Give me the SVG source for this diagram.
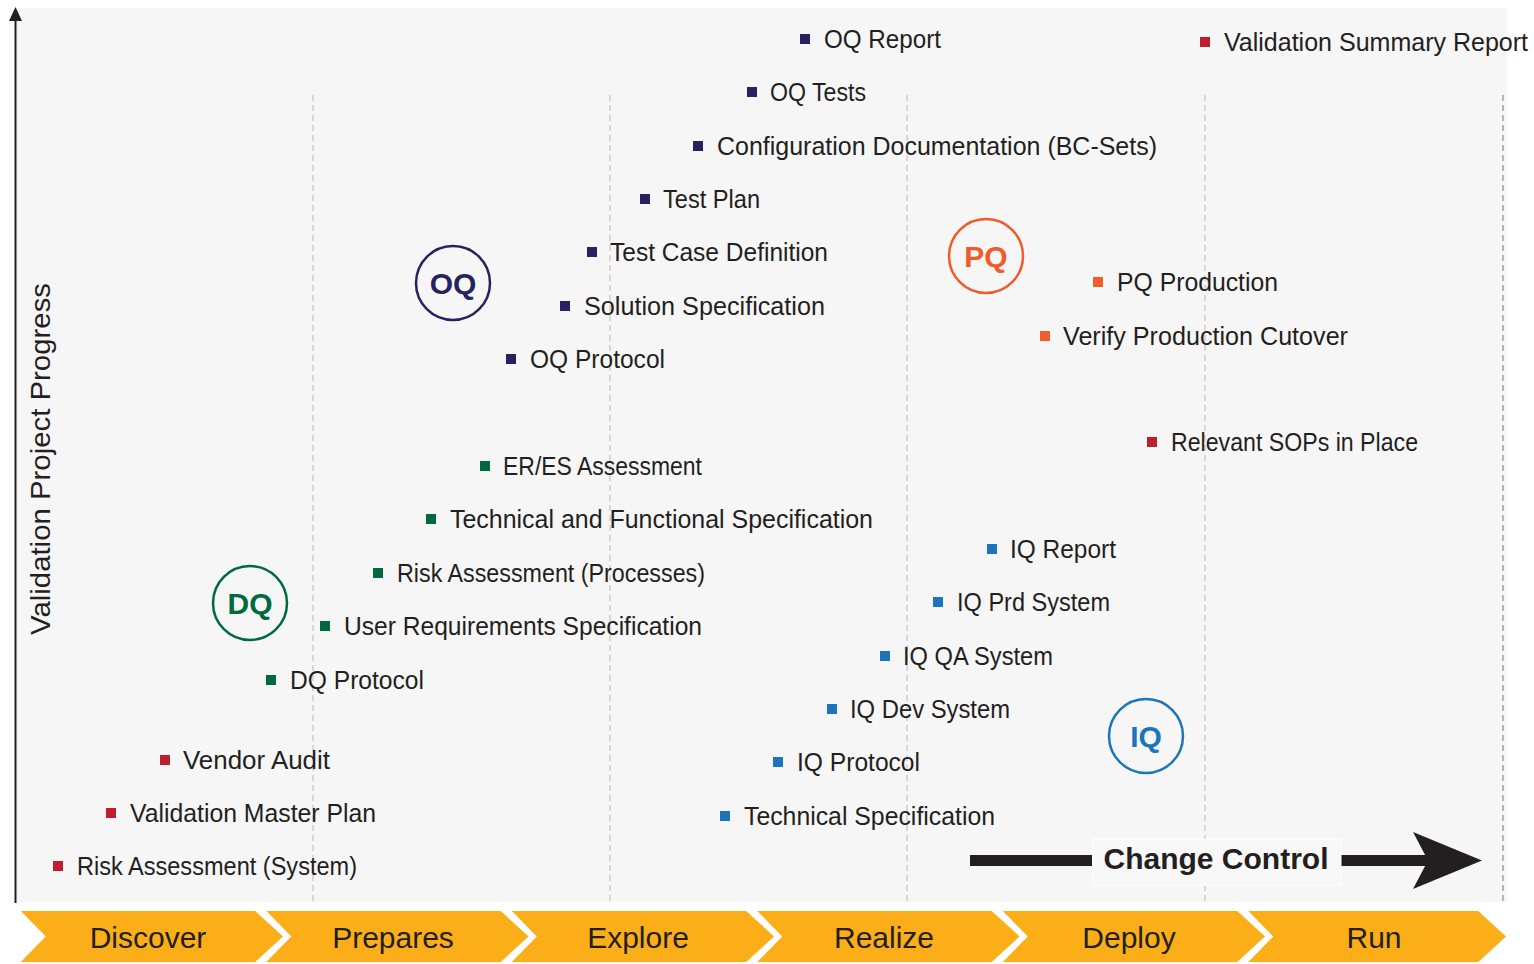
<svg xmlns="http://www.w3.org/2000/svg" width="1534" height="964" viewBox="0 0 1534 964">
<style>
.t{font-family:"Liberation Sans",Arial,sans-serif;font-size:25px;fill:#231f20}
.ph{font-family:"Liberation Sans",Arial,sans-serif;font-size:30px;fill:#231f20;text-anchor:middle}
.cl{font-family:"Liberation Sans",Arial,sans-serif;font-size:30px;font-weight:bold;text-anchor:middle}
.grid{stroke:#c4c4c4;stroke-width:1.2;stroke-dasharray:6 4;fill:none}
.chev{fill:#fbae17;stroke:#ffffff;stroke-width:4}
.oq{fill:#262262}.dq{fill:#00693e}.rd{fill:#be1e2d}.pq{fill:#f15a29}.iq{fill:#1c75bc}
</style>
<defs>
<rect id="m" x="-5" y="-5" width="10" height="10"/>
</defs>
<rect x="16" y="8" width="1491" height="894" fill="#f6f6f6"/>
<g id="grid">
<line class="grid" x1="313" y1="95" x2="313" y2="902"/>
<line class="grid" x1="610" y1="95" x2="610" y2="902"/>
<line class="grid" x1="907" y1="95" x2="907" y2="902"/>
<line class="grid" x1="1205" y1="95" x2="1205" y2="902"/>
<line class="grid" x1="1503" y1="95" x2="1503" y2="902" style="stroke:#8a8a8a"/>
</g>
<g id="connectors">
<line x1="15.5" y1="20" x2="15.5" y2="903" stroke="#231f20" stroke-width="2"/>
<polygon points="15.5,7 9,21 22,21" fill="#231f20"/>
<rect x="970" y="855" width="122" height="11" fill="#231f20"/>
<rect x="1341" y="855" width="92" height="11" fill="#231f20"/>
<polygon points="1482,860.5 1413,832 1428,860.5 1413,889" fill="#231f20"/>
</g>
<g id="change-control">
<rect x="1093" y="839" width="248" height="46" fill="#f8f8f8" stroke="#ffffff" stroke-width="1"/>
<text class="cl" x="1216" y="869" fill="#231f20">Change Control</text>
</g>
<g id="y-axis-label">
<text class="t" style="font-size:28px" transform="translate(50,459) rotate(-90)" text-anchor="middle" textLength="352" lengthAdjust="spacingAndGlyphs">Validation Project Progress</text>
</g>
<g id="phases">
<g id="phase-discover"><polygon class="chev" points="16,909 256,909 286,936.5 256,964 16,964 43,936.5"/><text class="ph" x="148" y="948">Discover</text></g>
<g id="phase-prepares"><polygon class="chev" points="261.5,909 501.5,909 531.5,936.5 501.5,964 261.5,964 288.5,936.5"/><text class="ph" x="393" y="948">Prepares</text></g>
<g id="phase-explore"><polygon class="chev" points="507,909 747,909 777,936.5 747,964 507,964 534,936.5"/><text class="ph" x="638" y="948">Explore</text></g>
<g id="phase-realize"><polygon class="chev" points="752.5,909 992.5,909 1022.5,936.5 992.5,964 752.5,964 779.5,936.5"/><text class="ph" x="884" y="948">Realize</text></g>
<g id="phase-deploy"><polygon class="chev" points="998,909 1238,909 1268,936.5 1238,964 998,964 1025,936.5"/><text class="ph" x="1129" y="948">Deploy</text></g>
<g id="phase-run"><polygon class="chev" points="1243.5,909 1479,909 1509,936.5 1479,964 1243.5,964 1270.5,936.5"/><text class="ph" x="1374" y="948">Run</text></g>
</g>
<g id="badges">
<g id="badge-oq"><circle cx="453" cy="283" r="37" fill="none" stroke="#262262" stroke-width="2.5"/><text class="cl oq" x="453" y="294">OQ</text></g>
<g id="badge-dq"><circle cx="250" cy="603" r="37" fill="none" stroke="#00693e" stroke-width="2.5"/><text class="cl dq" x="250" y="614">DQ</text></g>
<g id="badge-pq"><circle cx="986" cy="256" r="37" fill="none" stroke="#f15a29" stroke-width="2.5"/><text class="cl pq" x="986" y="267">PQ</text></g>
<g id="badge-iq"><circle cx="1146" cy="736" r="37" fill="none" stroke="#1c75bc" stroke-width="2.5"/><text class="cl iq" x="1146" y="747">IQ</text></g>
</g>
<g id="items">
<g id="oq-report"><use href="#m" class="oq" x="805" y="39"/><text class="t" x="824" y="48" textLength="117" lengthAdjust="spacingAndGlyphs">OQ Report</text></g>
<g id="oq-tests"><use href="#m" class="oq" x="752" y="92"/><text class="t" x="770" y="101" textLength="96" lengthAdjust="spacingAndGlyphs">OQ Tests</text></g>
<g id="config-doc"><use href="#m" class="oq" x="698" y="146"/><text class="t" x="717" y="155" textLength="440" lengthAdjust="spacingAndGlyphs">Configuration Documentation (BC-Sets)</text></g>
<g id="test-plan"><use href="#m" class="oq" x="645" y="199"/><text class="t" x="663" y="208" textLength="97" lengthAdjust="spacingAndGlyphs">Test Plan</text></g>
<g id="test-case-def"><use href="#m" class="oq" x="592" y="252"/><text class="t" x="610" y="261" textLength="218" lengthAdjust="spacingAndGlyphs">Test Case Definition</text></g>
<g id="solution-spec"><use href="#m" class="oq" x="565" y="306"/><text class="t" x="584" y="315" textLength="241" lengthAdjust="spacingAndGlyphs">Solution Specification</text></g>
<g id="oq-protocol"><use href="#m" class="oq" x="511" y="359"/><text class="t" x="530" y="368" textLength="135" lengthAdjust="spacingAndGlyphs">OQ Protocol</text></g>
<g id="eres"><use href="#m" class="dq" x="485" y="466"/><text class="t" x="503" y="475" textLength="199" lengthAdjust="spacingAndGlyphs">ER/ES Assessment</text></g>
<g id="tech-func-spec"><use href="#m" class="dq" x="431" y="519"/><text class="t" x="450" y="528" textLength="423" lengthAdjust="spacingAndGlyphs">Technical and Functional Specification</text></g>
<g id="risk-processes"><use href="#m" class="dq" x="378" y="573"/><text class="t" x="397" y="582" textLength="308" lengthAdjust="spacingAndGlyphs">Risk Assessment (Processes)</text></g>
<g id="urs"><use href="#m" class="dq" x="325" y="626"/><text class="t" x="344" y="635" textLength="358" lengthAdjust="spacingAndGlyphs">User Requirements Specification</text></g>
<g id="dq-protocol"><use href="#m" class="dq" x="271" y="680"/><text class="t" x="290" y="689" textLength="134" lengthAdjust="spacingAndGlyphs">DQ Protocol</text></g>
<g id="vendor-audit"><use href="#m" class="rd" x="165" y="760"/><text class="t" x="183" y="769" textLength="147" lengthAdjust="spacingAndGlyphs">Vendor Audit</text></g>
<g id="vmp"><use href="#m" class="rd" x="111" y="813"/><text class="t" x="130" y="822" textLength="246" lengthAdjust="spacingAndGlyphs">Validation Master Plan</text></g>
<g id="risk-system"><use href="#m" class="rd" x="58" y="866"/><text class="t" x="77" y="875" textLength="280" lengthAdjust="spacingAndGlyphs">Risk Assessment (System)</text></g>
<g id="vsr"><use href="#m" class="rd" x="1205" y="42"/><text class="t" x="1224" y="51" textLength="304" lengthAdjust="spacingAndGlyphs">Validation Summary Report</text></g>
<g id="pq-production"><use href="#m" class="pq" x="1098" y="282"/><text class="t" x="1117" y="291" textLength="161" lengthAdjust="spacingAndGlyphs">PQ Production</text></g>
<g id="verify-cutover"><use href="#m" class="pq" x="1045" y="336"/><text class="t" x="1063" y="345" textLength="285" lengthAdjust="spacingAndGlyphs">Verify Production Cutover</text></g>
<g id="sops"><use href="#m" class="rd" x="1152" y="442"/><text class="t" x="1171" y="451" textLength="247" lengthAdjust="spacingAndGlyphs">Relevant SOPs in Place</text></g>
<g id="iq-report"><use href="#m" class="iq" x="992" y="549"/><text class="t" x="1010" y="558" textLength="106" lengthAdjust="spacingAndGlyphs">IQ Report</text></g>
<g id="iq-prd"><use href="#m" class="iq" x="938" y="602"/><text class="t" x="957" y="611" textLength="153" lengthAdjust="spacingAndGlyphs">IQ Prd System</text></g>
<g id="iq-qa"><use href="#m" class="iq" x="885" y="656"/><text class="t" x="903" y="665" textLength="150" lengthAdjust="spacingAndGlyphs">IQ QA System</text></g>
<g id="iq-dev"><use href="#m" class="iq" x="832" y="709"/><text class="t" x="850" y="718" textLength="160" lengthAdjust="spacingAndGlyphs">IQ Dev System</text></g>
<g id="iq-protocol"><use href="#m" class="iq" x="778" y="762"/><text class="t" x="797" y="771" textLength="123" lengthAdjust="spacingAndGlyphs">IQ Protocol</text></g>
<g id="tech-spec"><use href="#m" class="iq" x="725" y="816"/><text class="t" x="744" y="825" textLength="251" lengthAdjust="spacingAndGlyphs">Technical Specification</text></g>
</g>
</svg>
